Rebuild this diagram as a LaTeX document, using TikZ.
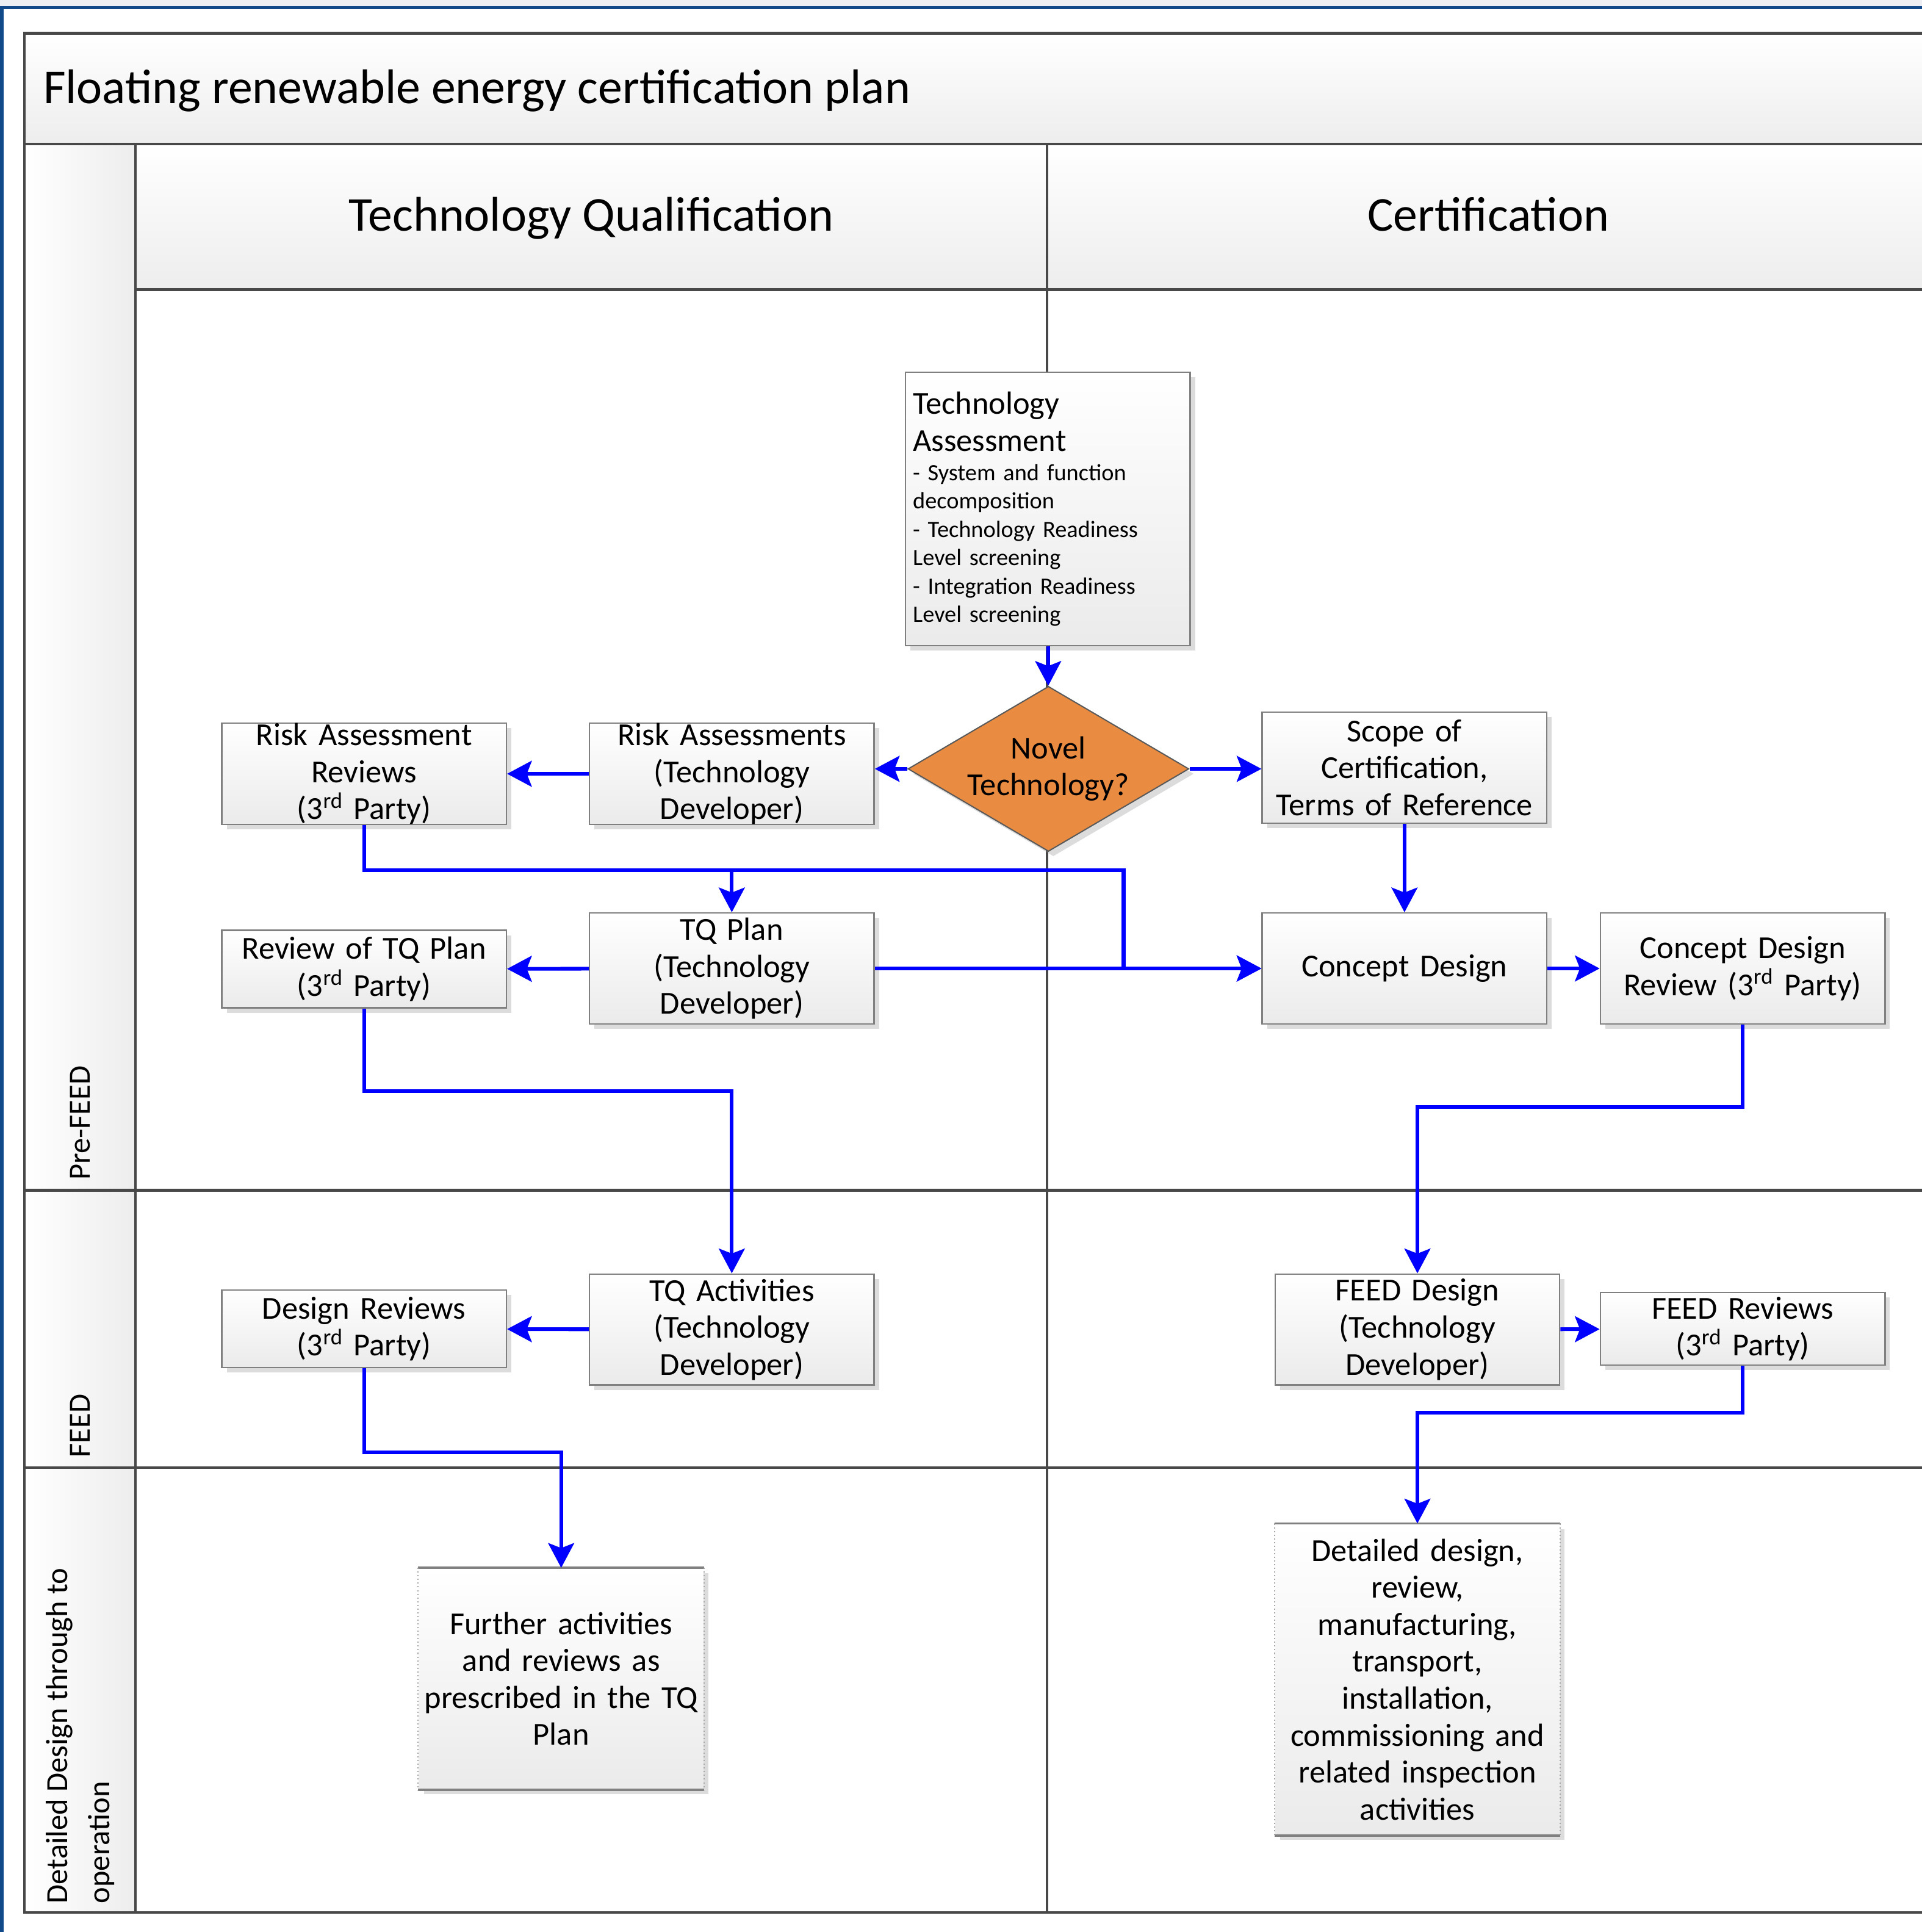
\documentclass[tikz,border=0pt]{standalone}
\usepackage{fontspec}
\setmainfont{Carlito}
\usetikzlibrary{shapes.geometric,arrows.meta,shadows,calc}

\definecolor{flowblue}{RGB}{0,0,255}
\definecolor{poolline}{RGB}{72,72,72}
\definecolor{boxline}{RGB}{128,128,128}
\definecolor{novelorange}{RGB}{233,139,64}
\definecolor{frameblue}{RGB}{16,72,138}
\definecolor{framecap}{RGB}{236,238,244}

\begin{document}
\begin{tikzpicture}[x=1pt, y=-1pt,
  stepbox/.style={rectangle, draw=boxline, line width=1.2pt, top color=white, bottom color=black!8, text width=219pt, align=center, inner xsep=6pt, inner ysep=0pt, minimum width=231pt, font=\fontsize{26}{30}\selectfont, drop shadow={shadow xshift=4pt, shadow yshift=-4pt, opacity=0.3, fill=black!45}},
  openbox/.style={stepbox, draw=none, text width=229pt, inner xsep=1pt},
  decision/.style={diamond, draw=black!65, line width=1pt, fill=novelorange, shape aspect=1.7, minimum width=228pt, minimum height=134pt, inner sep=0pt, align=center, font=\fontsize{26}{30}\selectfont, drop shadow={shadow xshift=4pt, shadow yshift=-4pt, opacity=0.3, fill=black!45}},
  flow/.style={draw=flowblue, line width=3pt, -{Stealth[length=20pt, width=21pt, inset=4pt]}},
  pool/.style={draw=poolline, line width=2pt},
  heading/.style={anchor=base, inner sep=0pt, font=\fontsize{39.5}{47}\selectfont},
  lanelabel/.style={rotate=90, anchor=west, align=left, inner sep=0pt, font=\fontsize{25}{34}\selectfont}
]
\useasboundingbox (0,0) rectangle (1560,1568);
\clip (0,0) rectangle (1560,1568);

\fill[framecap] (0,0) rectangle (1560,5);
\draw[frameblue, line width=2.5pt] (0,6) -- (1560,6);
\draw[frameblue, line width=3pt] (1.5,6) -- (1.5,1568);

\shade[top color=white, bottom color=black!7] (20,27) rectangle (1570,117);
\shade[top color=white, bottom color=black!7] (110,117) rectangle (1570,235);
\shade[left color=white, right color=black!7] (20,117) rectangle (110,1552);
\draw[pool] (20,27) rectangle (1570,1552);
\draw[pool] (20,117) -- (1570,117);
\draw[pool] (110,117) -- (110,1552);
\draw[pool] (110,235) -- (1570,235);
\draw[pool] (850,117) -- (850,1552);
\draw[pool] (20,966) -- (1570,966);
\draw[pool] (20,1191) -- (1570,1191);

\node[heading, anchor=base west] (title) at (35,84) {Floating renewable energy certification plan};
\node[heading] (tqhead) at (480,187.5) {Technology Qualification};
\node[heading] (certhead) at (1208,187.5) {Certification};
\node[lanelabel] (prefeed) at (65,958) {Pre-FEED};
\node[lanelabel] (feed) at (65,1183) {FEED};
\node[lanelabel] (operation) at (65,1545) {Detailed Design through to\\operation};

\node[stepbox, align=left, minimum height=222pt, font=\fontsize{19}{23}\selectfont] (techassess) at (850.5,413) {\lineskiplimit=-50pt
  {\fontsize{26}{30}\selectfont Technology}\\[7.5pt]{\fontsize{26}{30}\selectfont Assessment}\\[0.5pt]- System and function\\decomposition\\- Technology Readiness\\Level screening\\- Integration Readiness\\Level screening};
\node[decision] (novel) at (851,624) {Novel\\Technology?};
\node[stepbox, minimum height=80pt] (riskdev) at (594,628) {Risk Assessments\\(Technology\\Developer)};
\node[stepbox, minimum height=80pt] (riskrev) at (295.5,628) {Risk Assessment\\Reviews\\(3\textsuperscript{rd} Party)};
\node[stepbox, minimum height=90pt] (scope) at (1140,623) {Scope of\\Certification,\\Terms of Reference};
\node[stepbox, minimum height=90pt] (tqplan) at (594,786) {TQ Plan\\(Technology\\Developer)};
\node[stepbox, minimum height=63pt] (tqrev) at (295.5,786.5) {Review of TQ Plan\\(3\textsuperscript{rd} Party)};
\node[stepbox, minimum height=90pt] (concept) at (1140,786) {Concept Design};
\node[stepbox, minimum height=90pt] (conceptrev) at (1414.5,786) {Concept Design\\Review (3\textsuperscript{rd} Party)};
\node[stepbox, minimum height=90pt] (tqact) at (594,1079) {TQ Activities\\(Technology\\Developer)};
\node[stepbox, minimum height=63pt] (desrev) at (295.5,1078.5) {Design Reviews\\(3\textsuperscript{rd} Party)};
\node[stepbox, minimum height=90pt] (feeddes) at (1150.5,1079) {FEED Design\\(Technology\\Developer)};
\node[stepbox, minimum height=59pt] (feedrev) at (1414.5,1078.5) {FEED Reviews\\(3\textsuperscript{rd} Party)};
\node[openbox, minimum height=179pt] (further) at (455.5,1362.5) {Further activities\\and reviews as\\prescribed in the TQ\\Plan};
\node[openbox, minimum height=252pt] (detailed) at (1150.5,1363) {Detailed design,\\review,\\manufacturing,\\transport,\\installation,\\commissioning and\\related inspection\\activities};

\foreach \n in {further,detailed} {
  \draw[boxline, line width=1.8pt] (\n.north west) -- (\n.north east);
  \draw[boxline, line width=1.8pt] (\n.south west) -- (\n.south east);
  \draw[boxline!70, dotted, line width=1pt] (\n.north west) -- (\n.south west);
  \draw[boxline!70, dotted, line width=1pt] (\n.north east) -- (\n.south east);
}

\coordinate (tqsplit) at ($(tqplan.north)+(0,-34)$);

\path[flow] (techassess) -- (novel);
\path[flow] (novel.west) -- (novel.west -| riskdev.east);
\path[flow] (novel.east) -- (novel.east -| scope.west);
\path[flow] (riskdev) -- (riskrev);
\path[flow] (scope) -- (concept);
\path[flow] (tqplan) -- (tqrev);
\path[flow] (tqplan) -- (concept);
\path[flow] (riskrev.south) |- (tqsplit) -- ++(318,0) |- (concept.west);
\path[flow] (tqsplit) -- (tqplan.north);
\path[flow] (concept) -- (conceptrev);
\path[flow] (conceptrev.south) -- ++(0,67) -| (feeddes.north);
\path[flow] (tqrev.south) -- ++(0,67) -| (tqact.north);
\path[flow] (tqact) -- (desrev);
\path[flow] (feeddes) -- (feedrev);
\path[flow] (desrev.south) -- ++(0,68) -| (further.north);
\path[flow] (feedrev.south) -- ++(0,38) -| (detailed.north);
\end{tikzpicture}
\end{document}
